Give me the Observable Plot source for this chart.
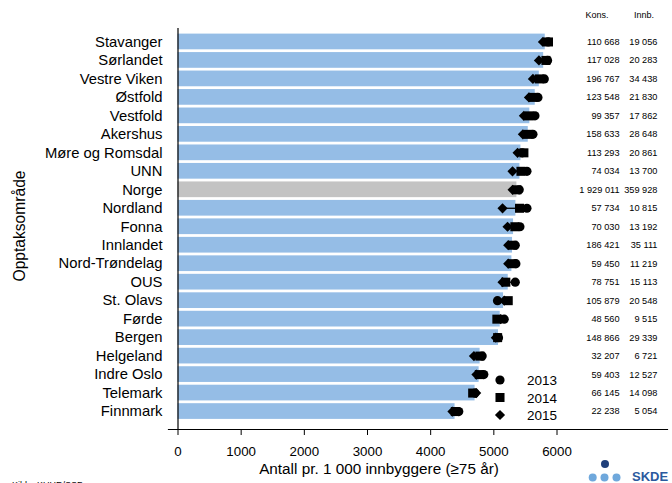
<!DOCTYPE html>
<html><head><meta charset="utf-8">
<script src="https://cdn.jsdelivr.net/npm/d3@7"></script>
<script src="https://cdn.jsdelivr.net/npm/@observablehq/plot@0.6"></script>
<style>html,body{margin:0;padding:0;background:#fff;overflow:hidden;width:672px;height:483px}</style>
</head><body><div id="chart"></div>
<script>
const categories = ["Stavanger","Sørlandet","Vestre Viken","Østfold","Vestfold","Akershus","Møre og Romsdal","UNN","Norge","Nordland","Fonna","Innlandet","Nord-Trøndelag","OUS","St. Olavs","Førde","Bergen","Helgeland","Indre Oslo","Telemark","Finnmark"];
const rate = [5814,5789,5720,5656,5570,5545,5429,5413,5365,5349,5312,5296,5286,5228,5154,5101,5074,4783,4767,4703,4386];
const y2013 = [5860,5851,5799,5698,5651,5619,5450,5524,5402,5524,5413,5339,5349,5339,5058,5164,5074,4815,4841,4700,4445];
const y2014 = [5865,5825,5720,5620,5560,5540,5476,5429,5365,5407,5333,5300,5290,5190,5228,5048,5060,4780,4770,4665,4390];
const y2015 = [5778,5714,5619,5556,5476,5460,5376,5296,5297,5138,5217,5228,5228,5138,5164,5110,5032,4685,4725,4720,4345];
const kons = [110668,117028,196767,123548,99357,158633,113293,74034,1929011,57734,70030,186421,59450,78751,105879,48560,148866,32207,59403,66145,22238];
const innb = [19056,20283,34438,21830,17862,28648,20861,13700,359928,10815,13192,35111,11219,15113,20548,9515,29339,6721,12527,14098,5054];
const xTicks = [0,1000,2000,3000,4000,5000,6000];
const years = ["2013","2014","2015"];

const blue = "#95bde6", gray = "#c3c3c3";
const fmt = v => d3.format(",")(v).replace(/,/g, " ");
const rows = categories.map((c,i) => ({region:c, rate:rate[i], a:y2013[i], b:y2014[i], c:y2015[i],
  lo: Math.min(y2013[i],y2014[i],y2015[i]), hi: Math.max(y2013[i],y2014[i],y2015[i]),
  kons: fmt(kons[i]), innb: fmt(innb[i])}));

const rCircle = 4.6, rSquare = 5.1, rDiamond = 4.6;

const plot = Plot.plot({
  width: 672, height: 483,
  marginLeft: 168, marginRight: 5, marginTop: 28, marginBottom: 54,
  style: {fontFamily: "'Liberation Sans', Arial, sans-serif", color: "#000", background: "#fff"},
  x: {domain: [0, 6000], range: [177.5, 556.5], label: null},
  y: {domain: categories, range: [33.6, 418.9], paddingInner: 0.15, paddingOuter: 0, round: false, label: null},
  color: {type: "identity"},
  marks: [
    Plot.barX(rows, {y: "region", x: "rate", fill: d => d.region === "Norge" ? gray : blue}),
    Plot.ruleY(rows, {y: "region", x1: "lo", x2: "hi", stroke: "#000", strokeWidth: 1.3}),
    Plot.dot(rows, {y: "region", x: "a", symbol: "circle", r: rCircle, fill: "#000"}),
    Plot.dot(rows, {y: "region", x: "b", symbol: "square", r: rSquare, fill: "#000"}),
    Plot.dot(rows, {y: "region", x: "c", symbol: "diamond2", r: rDiamond, fill: "#000"}),
    Plot.ruleX([0], {stroke: "#000", strokeWidth: 1.2}),
    Plot.frame({anchor: "bottom", stroke: "#000", strokeWidth: 1.2}),
    Plot.axisX({ticks: xTicks, tickFormat: d3.format("d"), tickSize: 6, tickPadding: 11, fontSize: 13.3, label: null}),
    Plot.axisY({tickSize: 0, tickPadding: 6, fontSize: 14.8, label: null}),
    Plot.text(rows, {y: "region", x: 6990, text: "kons", textAnchor: "end", fontSize: 9.2, fill: "#000"}),
    Plot.text(rows, {y: "region", x: 7590, text: "innb", textAnchor: "end", fontSize: 9.2, fill: "#000"})
  ]
});
document.getElementById("chart").appendChild(plot);

const svg = d3.select(plot);
const ff = "'Liberation Sans', Arial, sans-serif";
// table headers
svg.append("text").attr("x", 597).attr("y", 18).attr("text-anchor", "middle").attr("font-size", 9).attr("font-family", ff).text("Kons.");
svg.append("text").attr("x", 644).attr("y", 18).attr("text-anchor", "middle").attr("font-size", 9).attr("font-family", ff).text("Innb.");
// axis titles
svg.append("text").attr("transform", "translate(25,226) rotate(-90)").attr("text-anchor", "middle")
  .attr("font-size", 15.6).attr("font-family", ff).text("Opptaksområde");
svg.append("text").attr("x", 379).attr("y", 474).attr("text-anchor", "middle")
  .attr("font-size", 15.3).attr("font-family", ff).text("Antall pr. 1 000 innbyggere (≥75 år)");
// legend
const syms = [[d3.symbolCircle, rCircle], [d3.symbolSquare, rSquare], [d3.symbolDiamond2, rDiamond]];
years.forEach((yr, i) => {
  const yy = 380 + i * 17.5;
  svg.append("path").attr("transform", `translate(500,${yy})`)
    .attr("d", d3.symbol(syms[i][0], Math.PI * syms[i][1] * syms[i][1])()).attr("fill", "#000");
  svg.append("text").attr("x", 527).attr("y", yy + 5).attr("text-anchor", "start")
    .attr("font-size", 13.5).attr("font-family", ff).text(yr);
});
// source (partly below the visible area, as in the reference)
svg.append("text").attr("x", 12).attr("y", 488).attr("text-anchor", "start").attr("font-size", 9).attr("font-family", ff).text("Kilde: KUHR/SSB");
// logo
const logo = svg.append("g");
logo.append("circle").attr("cx", 605).attr("cy", 464).attr("r", 4).attr("fill", "#1f3f7a");
[592.7, 604.5, 616.5].forEach(cx => logo.append("circle").attr("cx", cx).attr("cy", 477.5).attr("r", 4).attr("fill", "#6fa8dc"));
logo.append("text").attr("x", 632).attr("y", 481).attr("text-anchor", "start").attr("font-size", 13).attr("font-weight", "bold")
  .attr("font-family", ff).attr("fill", "#2b5a9e").text("SKDE");
</script></body></html>
